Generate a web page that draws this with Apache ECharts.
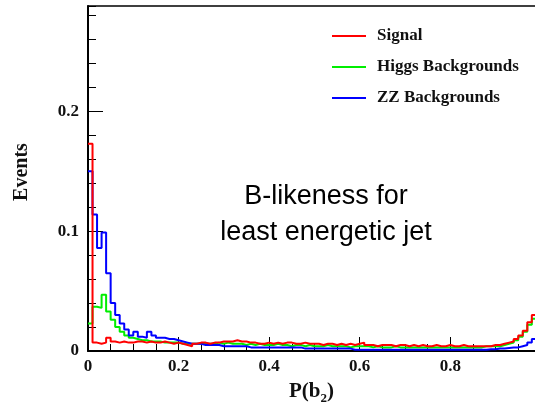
<!DOCTYPE html>
<html>
<head>
<meta charset="utf-8">
<script src="https://cdn.jsdelivr.net/npm/echarts@6/dist/echarts.min.js"></script>
<style>
html,body{margin:0;padding:0;background:#fff;}
#chart{width:535px;height:410px;}
</style>
</head>
<body>
<div id="chart"></div>
<script>
// Histogram: 100 bins of width 0.01 on P(b2) in [0,1]
const binWidth = 0.01;
const seriesNames = ['Signal', 'Higgs Backgrounds', 'ZZ Backgrounds'];
const signal = [
0.173,0.007,0.006,0.007,0.011,0.008,0.007,0.008,0.007,0.007,
0.008,0.008,0.007,0.008,0.007,0.007,0.008,0.007,0.006,0.007,
0.006,0.005,0.004,0.006,0.007,0.007,0.006,0.007,0.007,0.008,
0.008,0.008,0.009,0.008,0.008,0.007,0.007,0.006,0.006,0.007,
0.006,0.007,0.006,0.007,0.007,0.006,0.006,0.007,0.006,0.006,
0.006,0.005,0.006,0.006,0.005,0.006,0.005,0.006,0.005,0.006,
0.007,0.005,0.005,0.004,0.005,0.005,0.005,0.004,0.005,0.005,
0.004,0.005,0.004,0.005,0.004,0.004,0.005,0.004,0.004,0.005,
0.004,0.004,0.005,0.004,0.004,0.004,0.004,0.004,0.004,0.005,
0.005,0.006,0.007,0.008,0.010,0.013,0.017,0.024,0.030,0.065];
const higgsBkg = [
0.023,0.037,0.036,0.047,0.033,0.026,0.020,0.016,0.013,0.011,
0.010,0.009,0.009,0.008,0.008,0.008,0.007,0.007,0.007,0.007,
0.006,0.006,0.006,0.006,0.006,0.006,0.006,0.006,0.007,0.006,
0.007,0.006,0.006,0.006,0.005,0.006,0.005,0.006,0.005,0.005,
0.005,0.006,0.005,0.005,0.004,0.005,0.005,0.004,0.005,0.004,
0.004,0.004,0.005,0.004,0.004,0.004,0.004,0.003,0.004,0.004,
0.004,0.004,0.003,0.004,0.003,0.003,0.003,0.004,0.003,0.003,
0.003,0.003,0.003,0.003,0.003,0.003,0.003,0.003,0.003,0.003,
0.003,0.003,0.003,0.003,0.003,0.003,0.003,0.004,0.004,0.004,
0.004,0.005,0.006,0.007,0.009,0.012,0.016,0.022,0.027,0.035];
const zzBkg = [
0.150,0.114,0.086,0.099,0.065,0.040,0.030,0.023,0.018,0.013,
0.016,0.012,0.011,0.016,0.013,0.011,0.011,0.010,0.010,0.009,
0.008,0.007,0.006,0.006,0.006,0.005,0.005,0.005,0.005,0.004,
0.004,0.004,0.004,0.004,0.004,0.003,0.003,0.003,0.003,0.003,
0.003,0.003,0.003,0.003,0.003,0.003,0.003,0.002,0.002,0.002,
0.002,0.002,0.002,0.002,0.002,0.002,0.002,0.002,0.001,0.001,
0.001,0.001,0.001,0.001,0.001,0.001,0.001,0.001,0.001,0.001,
0.001,0.001,0.001,0.001,0.001,0.001,0.001,0.001,0.001,0.001,
0.001,0.001,0.001,0.001,0.001,0.001,0.001,0.001,0.0015,0.0015,
0.002,0.002,0.0025,0.003,0.003,0.004,0.005,0.007,0.010,0.012];
const xTickLabels = ['0', '0.2', '0.4', '0.6', '0.8'];
const yTickLabels = ['0', '0.1', '0.2'];

function toSteps(vals) {
  const pts = vals.map((v, i) => [i * binWidth, v]);
  pts.push([vals.length * binWidth, vals[vals.length - 1]]);
  return pts;
}

const serif = '"Liberation Serif", "Times New Roman", serif';
const chart = echarts.init(document.getElementById('chart'), null, {renderer: 'canvas'});

function fmtX(v) {
  const idx = Math.round(v / 0.2);
  if (Math.abs(v - idx * 0.2) < 1e-6 && idx < xTickLabels.length) return xTickLabels[idx];
  return '';
}
function fmtY(v) {
  const idx = Math.round(v / 0.1);
  if (Math.abs(v - idx * 0.1) < 1e-6 && idx < yTickLabels.length) return yTickLabels[idx];
  return '';
}

const option = {
  animation: false,
  backgroundColor: '#fff',
  grid: {left: 88, right: 0, top: 6, bottom: 58, containLabel: false},
  legend: {
    orient: 'vertical',
    left: 332, top: 27, padding: 0,
    icon: 'rect', itemWidth: 34, itemHeight: 2,
    itemGap: 13,
    data: seriesNames,
    textStyle: {fontFamily: serif, fontWeight: 'bold', fontSize: 17, color: '#111', padding: [0,0,0,6], lineHeight: 18}
  },
  xAxis: [
    {
      type: 'value', position: 'bottom', min: 0, max: 0.987, interval: 0.2,
      axisLine: {show: true, onZero: false, lineStyle: {color: '#000', width: 2}},
      axisTick: {show: true, inside: true, length: 14, lineStyle: {color: '#000', width: 1}},
      axisLabel: {formatter: fmtX, showMaxLabel: false, margin: 7, fontFamily: serif, fontWeight: 'bold', fontSize: 17, color: '#111'},
      splitLine: {show: false},
      name: '{a|P(b}{s|2}{a|)}', nameLocation: 'middle', nameGap: 27,
      nameTextStyle: {rich: {
        a: {fontFamily: serif, fontWeight: 'bold', fontSize: 21, color: '#111'},
        s: {fontFamily: serif, fontWeight: 'bold', fontSize: 13, color: '#111', padding: [14,0,0,0]}
      }}
    },
    {
      type: 'value', position: 'bottom', min: 0, max: 0.987, interval: 0.05,
      axisLine: {show: false},
      axisTick: {show: true, inside: true, length: 7, lineStyle: {color: '#000', width: 1}},
      axisLabel: {show: false}, splitLine: {show: false}
    },
    {
      type: 'value', position: 'top', min: 0, max: 0.987,
      axisLine: {show: true, onZero: false, lineStyle: {color: '#000', width: 1.5}},
      axisTick: {show: false}, axisLabel: {show: false}, splitLine: {show: false}
    }
  ],
  yAxis: [
    {
      type: 'value', position: 'left', min: 0, max: 0.288, interval: 0.1,
      axisLine: {show: true, onZero: false, lineStyle: {color: '#000', width: 2}},
      axisTick: {show: true, inside: true, length: 15, lineStyle: {color: '#000', width: 1}},
      axisLabel: {formatter: fmtY, showMaxLabel: false, margin: 9, fontFamily: serif, fontWeight: 'bold', fontSize: 17, color: '#111'},
      splitLine: {show: false}
    },
    {
      type: 'value', position: 'left', min: 0, max: 0.288, interval: 0.02,
      axisLine: {show: false},
      axisTick: {show: true, inside: true, length: 8, lineStyle: {color: '#000', width: 1}},
      axisLabel: {show: false}, splitLine: {show: false}
    }
  ],
  series: [
    {name: seriesNames[1], type: 'line', step: 'end', data: toSteps(higgsBkg), showSymbol: false, symbol: 'none', clip: true,
     itemStyle: {color: '#00ee00'}, lineStyle: {color: '#00ee00', width: 2}, z: 2},
    {name: seriesNames[2], type: 'line', step: 'end', data: toSteps(zzBkg), showSymbol: false, symbol: 'none', clip: true,
     itemStyle: {color: '#0000ff'}, lineStyle: {color: '#0000ff', width: 2}, z: 3},
    {name: seriesNames[0], type: 'line', step: 'end', data: toSteps(signal), showSymbol: false, symbol: 'none', clip: true,
     itemStyle: {color: '#ff0000'}, lineStyle: {color: '#ff0000', width: 2}, z: 4}
  ],
  graphic: [
    {type: 'text', x: 22, y: 172, rotation: Math.PI / 2,
     style: {text: 'Events', font: 'bold 20px ' + serif, fill: '#111', textAlign: 'center', textVerticalAlign: 'middle'}},
    {type: 'text', x: 326, y: 197,
     style: {text: 'B-likeness for', font: '27px "Liberation Sans", Arial, sans-serif', fill: '#000', textAlign: 'center', textVerticalAlign: 'middle'}},
    {type: 'text', x: 326, y: 233,
     style: {text: 'least energetic jet', font: '27px "Liberation Sans", Arial, sans-serif', fill: '#000', textAlign: 'center', textVerticalAlign: 'middle'}}
  ]
};
chart.setOption(option);
</script>
</body>
</html>
